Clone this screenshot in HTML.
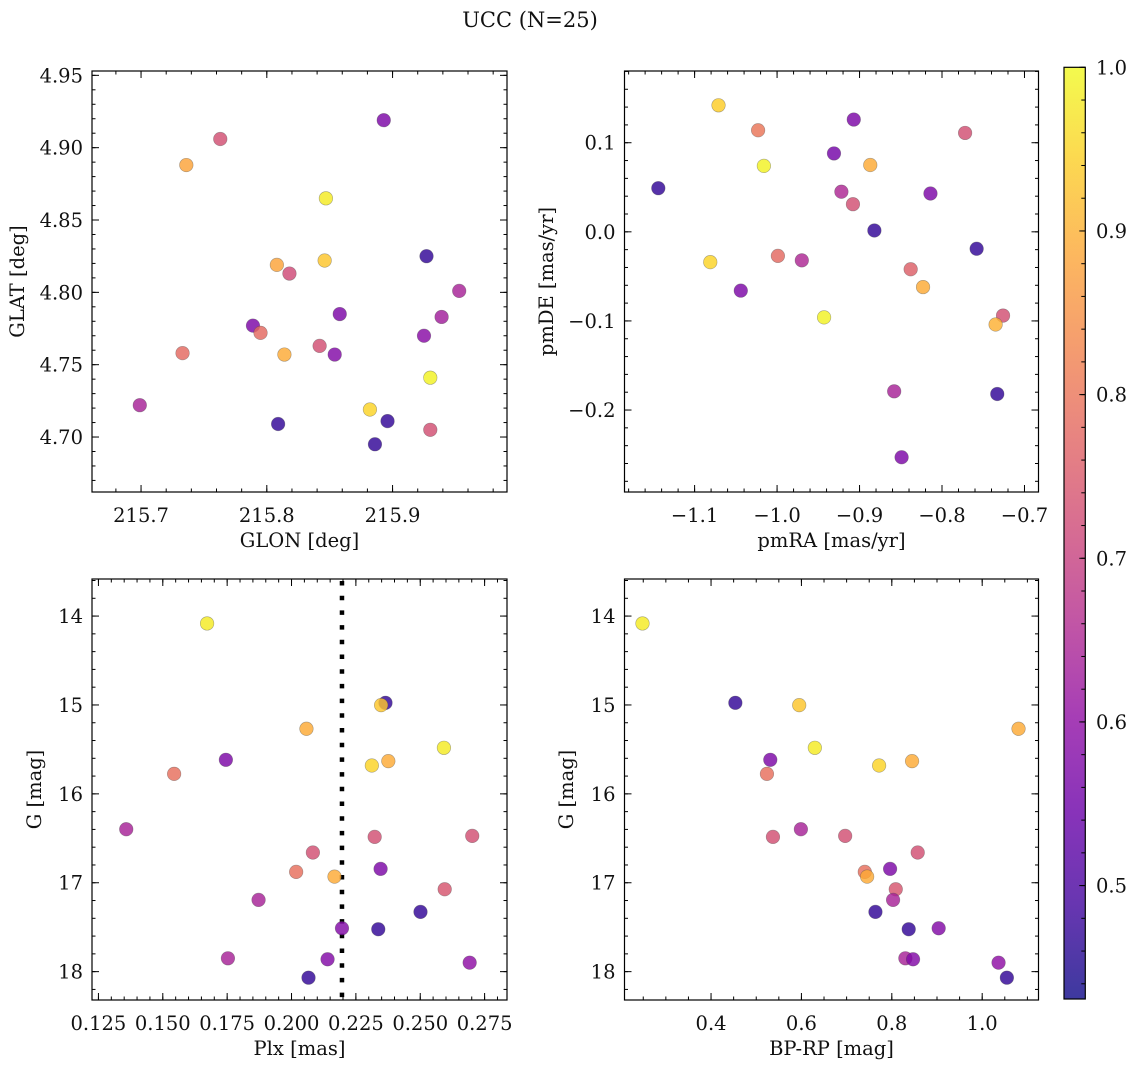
<!DOCTYPE html>
<html><head><meta charset="utf-8"><style>
html,body{margin:0;padding:0;background:#fff;}
svg{display:block;font-family:"DejaVu Serif","Liberation Serif",serif;}
</style></head><body>
<svg id="fig" width="1136" height="1067" viewBox="0 0 1136 1067" xmlns="http://www.w3.org/2000/svg">
<text x="530" y="27" font-size="21" text-anchor="middle" fill="#111">UCC (N=25)</text>
</svg>
<script>
// ---- Data ----
const glon = [215.893,215.763,215.736,215.847,215.927,215.808,215.846,215.818,215.953,215.789,215.795,215.858,215.939,215.842,215.854,215.733,215.814,215.925,215.930,215.699,215.882,215.896,215.809,215.930,215.886];
const glat = [4.919,4.906,4.888,4.865,4.825,4.819,4.822,4.813,4.801,4.777,4.772,4.785,4.783,4.763,4.757,4.758,4.757,4.770,4.741,4.722,4.719,4.711,4.709,4.705,4.695];
const probTL = [0.57,0.73,0.88,0.98,0.47,0.88,0.93,0.72,0.64,0.57,0.78,0.57,0.63,0.73,0.58,0.78,0.89,0.59,0.99,0.64,0.95,0.47,0.47,0.73,0.47];

const pmra = [-1.071,-0.907,-1.023,-0.772,-0.931,-1.016,-0.887,-0.922,-0.814,-0.908,-1.144,-0.882,-0.758,-0.999,-0.970,-1.081,-0.838,-0.823,-1.044,-0.726,-0.943,-0.735,-0.858,-0.733,-0.849];
const pmde = [0.142,0.126,0.114,0.111,0.088,0.074,0.075,0.045,0.043,0.031,0.049,0.0015,-0.019,-0.027,-0.032,-0.034,-0.042,-0.062,-0.066,-0.094,-0.096,-0.104,-0.179,-0.182,-0.253];
const probTR = [0.94,0.57,0.80,0.73,0.56,0.99,0.89,0.65,0.57,0.73,0.47,0.47,0.47,0.78,0.65,0.95,0.76,0.89,0.57,0.73,0.99,0.90,0.64,0.47,0.57];

const plx  = [0.1672,0.2365,0.2348,0.2058,0.2592,0.1745,0.2376,0.2312,0.1544,0.1358,0.2323,0.2702,0.2083,0.2346,0.2018,0.2167,0.2595,0.1872,0.2501,0.2337,0.2196,0.1753,0.2140,0.2692,0.2066];
const bprp = [0.2483,0.4538,0.5951,1.0804,0.6297,0.5311,0.8448,0.7719,0.5237,0.5988,0.5370,0.6968,0.8573,0.7962,0.7402,0.7454,0.8087,0.8028,0.7638,0.8374,0.9037,0.8300,0.8470,1.0362,1.0546];
const gmag = [14.083,14.976,15.002,15.268,15.482,15.617,15.632,15.681,15.775,16.398,16.484,16.473,16.660,16.844,16.878,16.931,17.073,17.193,17.328,17.523,17.512,17.850,17.861,17.899,18.068];
const probB = [0.98,0.47,0.93,0.89,0.98,0.57,0.89,0.95,0.79,0.64,0.73,0.73,0.73,0.57,0.79,0.89,0.74,0.64,0.47,0.47,0.58,0.64,0.58,0.60,0.47];
const plxLine = [0.2196];

const ticksTLx = [215.7,215.8,215.9];
const ticksTLy = [4.70,4.75,4.80,4.85,4.90,4.95];
const ticksTRx = [-1.1,-1.0,-0.9,-0.8,-0.7];
const ticksTRy = [-0.2,-0.1,0.0,0.1];
const ticksBLx = [0.125,0.150,0.175,0.200,0.225,0.250,0.275];
const ticksG = [14,15,16,17,18];
const ticksBRx = [0.4,0.6,0.8,1.0];
const ticksCbar = [0.5,0.6,0.7,0.8,0.9,1.0];

const VMIN = 0.4307, VMAX = 1.0;
const FS = 19.5;

// ---- helpers ----
const NS = "http://www.w3.org/2000/svg";
const svg = document.getElementById('fig');
function el(tag, attrs, parent) {
  const e = document.createElementNS(NS, tag);
  for (const k in attrs) e.setAttribute(k, attrs[k]);
  (parent || svg).appendChild(e);
  return e;
}
const plasmaStops = [[13,8,135],[65,4,157],[106,0,168],[143,13,164],[177,42,144],[204,71,120],[225,100,98],[242,132,75],[252,166,54],[252,206,37],[240,249,33]];
function plasma(t) {
  t = Math.max(0, Math.min(1, t));
  const s = t * 10, i = Math.min(9, Math.floor(s)), f = s - i;
  const a = plasmaStops[i], b = plasmaStops[i + 1];
  return 'rgb(' + [0,1,2].map(k => Math.round(a[k] + (b[k] - a[k]) * f)).join(',') + ')';
}
function colorOf(v) { return plasma((v - VMIN) / (VMAX - VMIN)); }
function fmtMinus(s) { return s.replace('-', '\u2212'); }

function panel(cfg) {
  const g = el('g', {});
  
  
  const {L, R, T, B} = cfg;
  const sx = v => L + (v - cfg.x0) / (cfg.x1 - cfg.x0) * (R - L);
  const sy = cfg.invertY
    ? (v => T + (v - cfg.y0) / (cfg.y1 - cfg.y0) * (B - T))
    : (v => B - (v - cfg.y0) / (cfg.y1 - cfg.y0) * (B - T));
  const minorX = [], minorY = [];
  for (let v = Math.ceil(cfg.x0 / cfg.mx - 1e-6) * cfg.mx; v <= cfg.x1 + 1e-9; v += cfg.mx) minorX.push(v);
  for (let v = Math.ceil(cfg.y0 / cfg.my - 1e-6) * cfg.my; v <= cfg.y1 + 1e-9; v += cfg.my) minorY.push(v);
  minorX.forEach(v => {
    const x = sx(v);
    const t1 = el('line', {x1:x, y1:B, x2:x, y2:B-3.5, stroke:'#000', 'stroke-width':1}, g);
    
    
    const t2 = el('line', {x1:x, y1:T, x2:x, y2:T+3.5, stroke:'#000', 'stroke-width':1}, g);
    
    
  });
  minorY.forEach(v => {
    const y = sy(v);
    const t1 = el('line', {x1:L, y1:y, x2:L+3.5, y2:y, stroke:'#000', 'stroke-width':1}, g);
    
    
    const t2 = el('line', {x1:R, y1:y, x2:R-3.5, y2:y, stroke:'#000', 'stroke-width':1}, g);
    
    
  });
  cfg.tx.forEach((v, i) => {
    const x = sx(v);
    const t1 = el('line', {x1:x, y1:B, x2:x, y2:B-7, stroke:'#000', 'stroke-width':1}, g);
    
    
    const t2 = el('line', {x1:x, y1:T, x2:x, y2:T+7, stroke:'#000', 'stroke-width':1}, g);
    
    
    const lb = el('text', {x:x, y:B+30, 'font-size':FS, 'text-anchor':'middle', fill:'#111'}, g);
    
    
    lb.textContent = fmtMinus(v.toFixed(cfg.xd));
  });
  cfg.ty.forEach(v => {
    const y = sy(v);
    const t1 = el('line', {x1:L, y1:y, x2:L+7, y2:y, stroke:'#000', 'stroke-width':1}, g);
    
    
    const t2 = el('line', {x1:R, y1:y, x2:R-7, y2:y, stroke:'#000', 'stroke-width':1}, g);
    
    
    const lb = el('text', {x:L-9, y:y+7, 'font-size':FS, 'text-anchor':'end', fill:'#111'}, g);
    
    
    lb.textContent = fmtMinus(v.toFixed(cfg.yd));
  });
  const xl = el('text', {x:(L+R)/2, y:B+55, 'font-size':FS, 'text-anchor':'middle', fill:'#111'}, g);
  
  
  xl.textContent = cfg.xlabel;
  const yl = el('text', {x:cfg.ylx, y:(T+B)/2, 'font-size':FS, 'text-anchor':'middle', fill:'#111', transform:'rotate(-90 '+cfg.ylx+' '+((T+B)/2)+')'}, g);
  
  
  yl.textContent = cfg.ylabel;
  if (cfg.vline) cfg.vline.forEach(v => {
    const ln = el('line', {x1:sx(v), y1:T+2, x2:sx(v), y2:B, stroke:'#000', 'stroke-width':4.5, 'stroke-dasharray':'4.5,10.2'}, g);
    
    
  });
  cfg.xs.forEach((xv, i) => {
    const c = el('circle', {cx:sx(xv), cy:sy(cfg.ys[i]), r:6.8, fill:colorOf(cfg.cs[i]), 'fill-opacity':0.82, stroke:'rgba(70,70,70,0.45)', 'stroke-width':0.6}, g);
    
    
  });
  const fr = el('rect', {x:L, y:T, width:R-L, height:B-T, fill:'none', stroke:'#000', 'stroke-width':1.2}, g);
  
  
}

panel({name:'glon-glat-panel', L:92, R:507, T:71, B:492, x0:215.661, x1:215.991, y0:4.662, y1:4.953,
  mx:0.02, my:0.01, tx:ticksTLx, ty:ticksTLy, xd:1, yd:2, xlabel:'GLON [deg]', ylabel:'GLAT [deg]', ylx:24,
  xs:glon, ys:glat, cs:probTL});
panel({name:'pm-panel', L:624.5, R:1038.5, T:71, B:492, x0:-1.185, x1:-0.683, y0:-0.292, y1:0.1805,
  mx:0.02, my:0.02, tx:ticksTRx, ty:ticksTRy, xd:1, yd:1, xlabel:'pmRA [mas/yr]', ylabel:'pmDE [mas/yr]', ylx:553,
  xs:pmra, ys:pmde, cs:probTR});
panel({name:'plx-g-panel', L:92, R:507, T:579, B:1000, x0:0.1225, x1:0.2837, y0:13.583, y1:18.319, invertY:true,
  mx:0.005, my:0.2, tx:ticksBLx, ty:ticksG, xd:3, yd:0, xlabel:'Plx [mas]', ylabel:'G [mag]', ylx:41,
  xs:plx, ys:gmag, cs:probB, vline:plxLine});
panel({name:'cmd-panel', L:624.5, R:1038.5, T:579, B:1000, x0:0.2085, x1:1.1246, y0:13.583, y1:18.319, invertY:true,
  mx:0.05, my:0.2, tx:ticksBRx, ty:ticksG, xd:1, yd:0, xlabel:'BP-RP [mag]', ylabel:'G [mag]', ylx:573,
  xs:bprp, ys:gmag, cs:probB});

// ---- colorbar ----
(function(){
  const L = 1064, R = 1085.3, T = 67.3, B = 999;
  const cg = el('g', {});
  
  
  const defs = el('defs', {}, cg);
  const lg = el('linearGradient', {id:'cbgrad', x1:0, y1:1, x2:0, y2:0}, defs);
  for (let i = 0; i <= 20; i++) {
    const t = i / 20;
    el('stop', {offset:t, 'stop-color':plasma(t), 'stop-opacity':0.8}, lg);
  }
  const r = el('rect', {x:L, y:T, width:R-L, height:B-T, fill:'url(#cbgrad)', stroke:'#000', 'stroke-width':1.2}, cg);
  
  
  const sy = v => B - (v - VMIN) / (VMAX - VMIN) * (B - T);
  for (let v = 0.44; v <= 1.0001; v += 0.02) {
    const t = el('line', {x1:R, y1:sy(v), x2:R-4, y2:sy(v), stroke:'#000', 'stroke-width':1}, cg);
    
    
  }
  ticksCbar.forEach(v => {
    const t = el('line', {x1:R, y1:sy(v), x2:R-6, y2:sy(v), stroke:'#000', 'stroke-width':1}, cg);
    
    
    const lb = el('text', {x:1096, y:sy(v)+7, 'font-size':FS, fill:'#111'}, cg);
    
    
    lb.textContent = v.toFixed(1);
  });
})();
</script>
</body></html>
